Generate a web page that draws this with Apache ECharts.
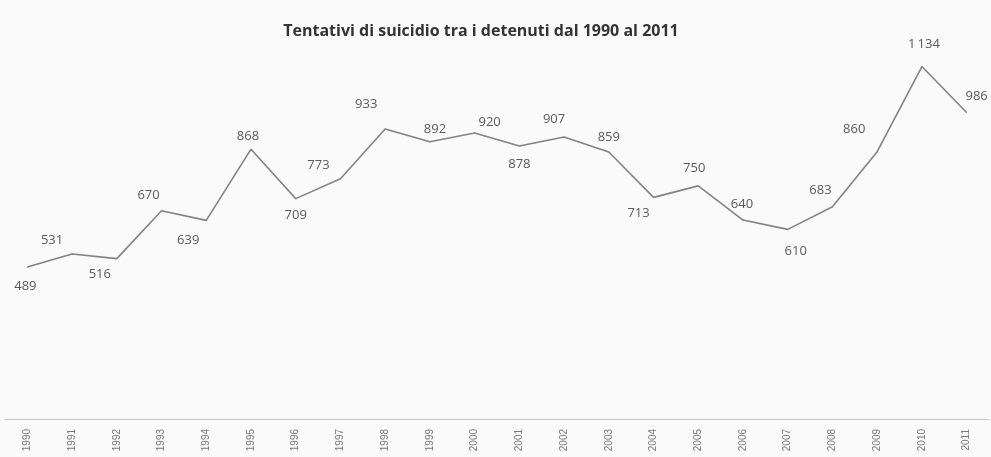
<!DOCTYPE html>
<html>
<head>
<meta charset="utf-8">
<script src="https://cdn.jsdelivr.net/npm/echarts@6/dist/echarts.min.js"></script>
<style>
  html, body { margin: 0; padding: 0; background: #fafafa; }
  #chart { width: 991px; height: 457px; }
</style>
</head>
<body>
<div id="chart"></div>
<script>
// Anni e tentativi di suicidio registrati
const years = ['1990','1991','1992','1993','1994','1995','1996','1997','1998','1999','2000',
               '2001','2002','2003','2004','2005','2006','2007','2008','2009','2010','2011'];
const attempts = [489, 531, 516, 670, 639, 868, 709, 773, 933, 892, 920,
                  878, 907, 859, 713, 750, 640, 610, 683, 860, 1134, 986];

// Spostamento di ogni etichetta rispetto al punto (px)
const labelOffsets = [
  [-2, 19], [-20, -14], [-17, 16], [-13, -15], [-18, 20], [-3, -13], [0, 17], [-22, -13],
  [-19, -25], [5, -12], [15, -11], [0, 18], [-10, -18], [0, -15], [-15, 16], [-4, -18],
  [-1, -16], [8, 22], [-12, -16], [-23, -22], [2, -22], [10, -16]
];

function fmt(v) {
  return v >= 1000 ? String(v).replace(/\B(?=(\d{3})+(?!\d))/g, '\u2009') : String(v);
}

const chart = echarts.init(document.getElementById('chart'), null, { renderer: 'canvas' });
chart.setOption({
  backgroundColor: '#fafafa',
  animation: false,
  title: {
    text: 'Tentativi di suicidio tra i detenuti dal 1990 al 2011',
    left: 476,
    top: 18,
    textAlign: 'center',
    textStyle: { fontFamily: 'Open Sans', fontWeight: 'bold', fontSize: 16, color: '#333' }
  },
  grid: { left: 5, right: 2, top: 46, bottom: 38 },
  xAxis: {
    type: 'category',
    data: years,
    boundaryGap: true,
    axisLine: { show: true, lineStyle: { color: '#c8c8c8', width: 1 } },
    axisTick: { show: false },
    axisLabel: { rotate: 90, fontSize: 10, color: '#777', margin: 10, fontFamily: 'Liberation Sans', interval: 0 }
  },
  yAxis: {
    type: 'value',
    min: 0,
    max: 1200,
    show: false,
    splitLine: { show: false }
  },
  series: [{
    type: 'line',
    data: attempts.map((v, i) => ({
      value: v,
      label: { offset: labelOffsets[i] }
    })),
    symbol: 'circle',
    symbolSize: 1,
    itemStyle: { color: '#838383' },
    lineStyle: { color: '#838383', width: 1.6 },
    label: {
      show: true,
      position: 'inside',
      formatter: p => fmt(p.value),
      fontFamily: 'Open Sans',
      fontSize: 13,
      color: '#5a5a5a'
    }
  }]
});
</script>
</body>
</html>
